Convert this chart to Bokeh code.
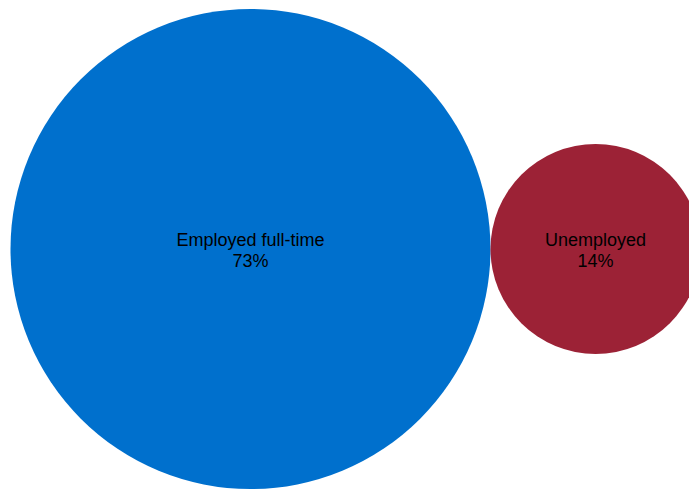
import math
from bokeh.plotting import figure
from bokeh.models import Range1d, ColumnDataSource
from bokeh.core.properties import value
from bokeh.embed import file_html
from bokeh.resources import INLINE

# Data
categories = ["Employed full-time", "Unemployed"]
shares = [73, 14]
colors = ["#0070CD", "#9C2236"]

W, H = 689, 489
scale = 240 / math.sqrt(max(shares))   # px per sqrt(percent)
radii = [scale * math.sqrt(v) for v in shares]
pad = 10
xs = []
cursor = pad
for r in radii:
    xs.append(cursor + r)
    cursor += 2 * r
ys = [248.5] * len(shares)

src = ColumnDataSource(dict(
    x=xs, y=ys, r=radii, color=colors,
    name=categories, pct=[f"{v}%" for v in shares],
))

p = figure(width=W, height=H, output_backend="svg", toolbar_location=None,
           x_range=Range1d(0, W), y_range=Range1d(H, 0), min_border=0)
p.axis.visible = False
p.grid.visible = False
p.outline_line_color = None
p.background_fill_color = "white"

p.circle(x="x", y="y", radius="r", fill_color="color", line_color=None, source=src)
p.text(x="x", y="y", text="name", source=src, text_align="center", text_baseline="middle",
       y_offset=-9, text_font=value("Liberation Sans"), text_font_size="18px", text_color="#000000")
p.text(x="x", y="y", text="pct", source=src, text_align="center", text_baseline="middle",
       y_offset=12, text_font=value("Liberation Sans"), text_font_size="18px", text_color="#000000")

open("out.html", "w").write(file_html(p, INLINE))
